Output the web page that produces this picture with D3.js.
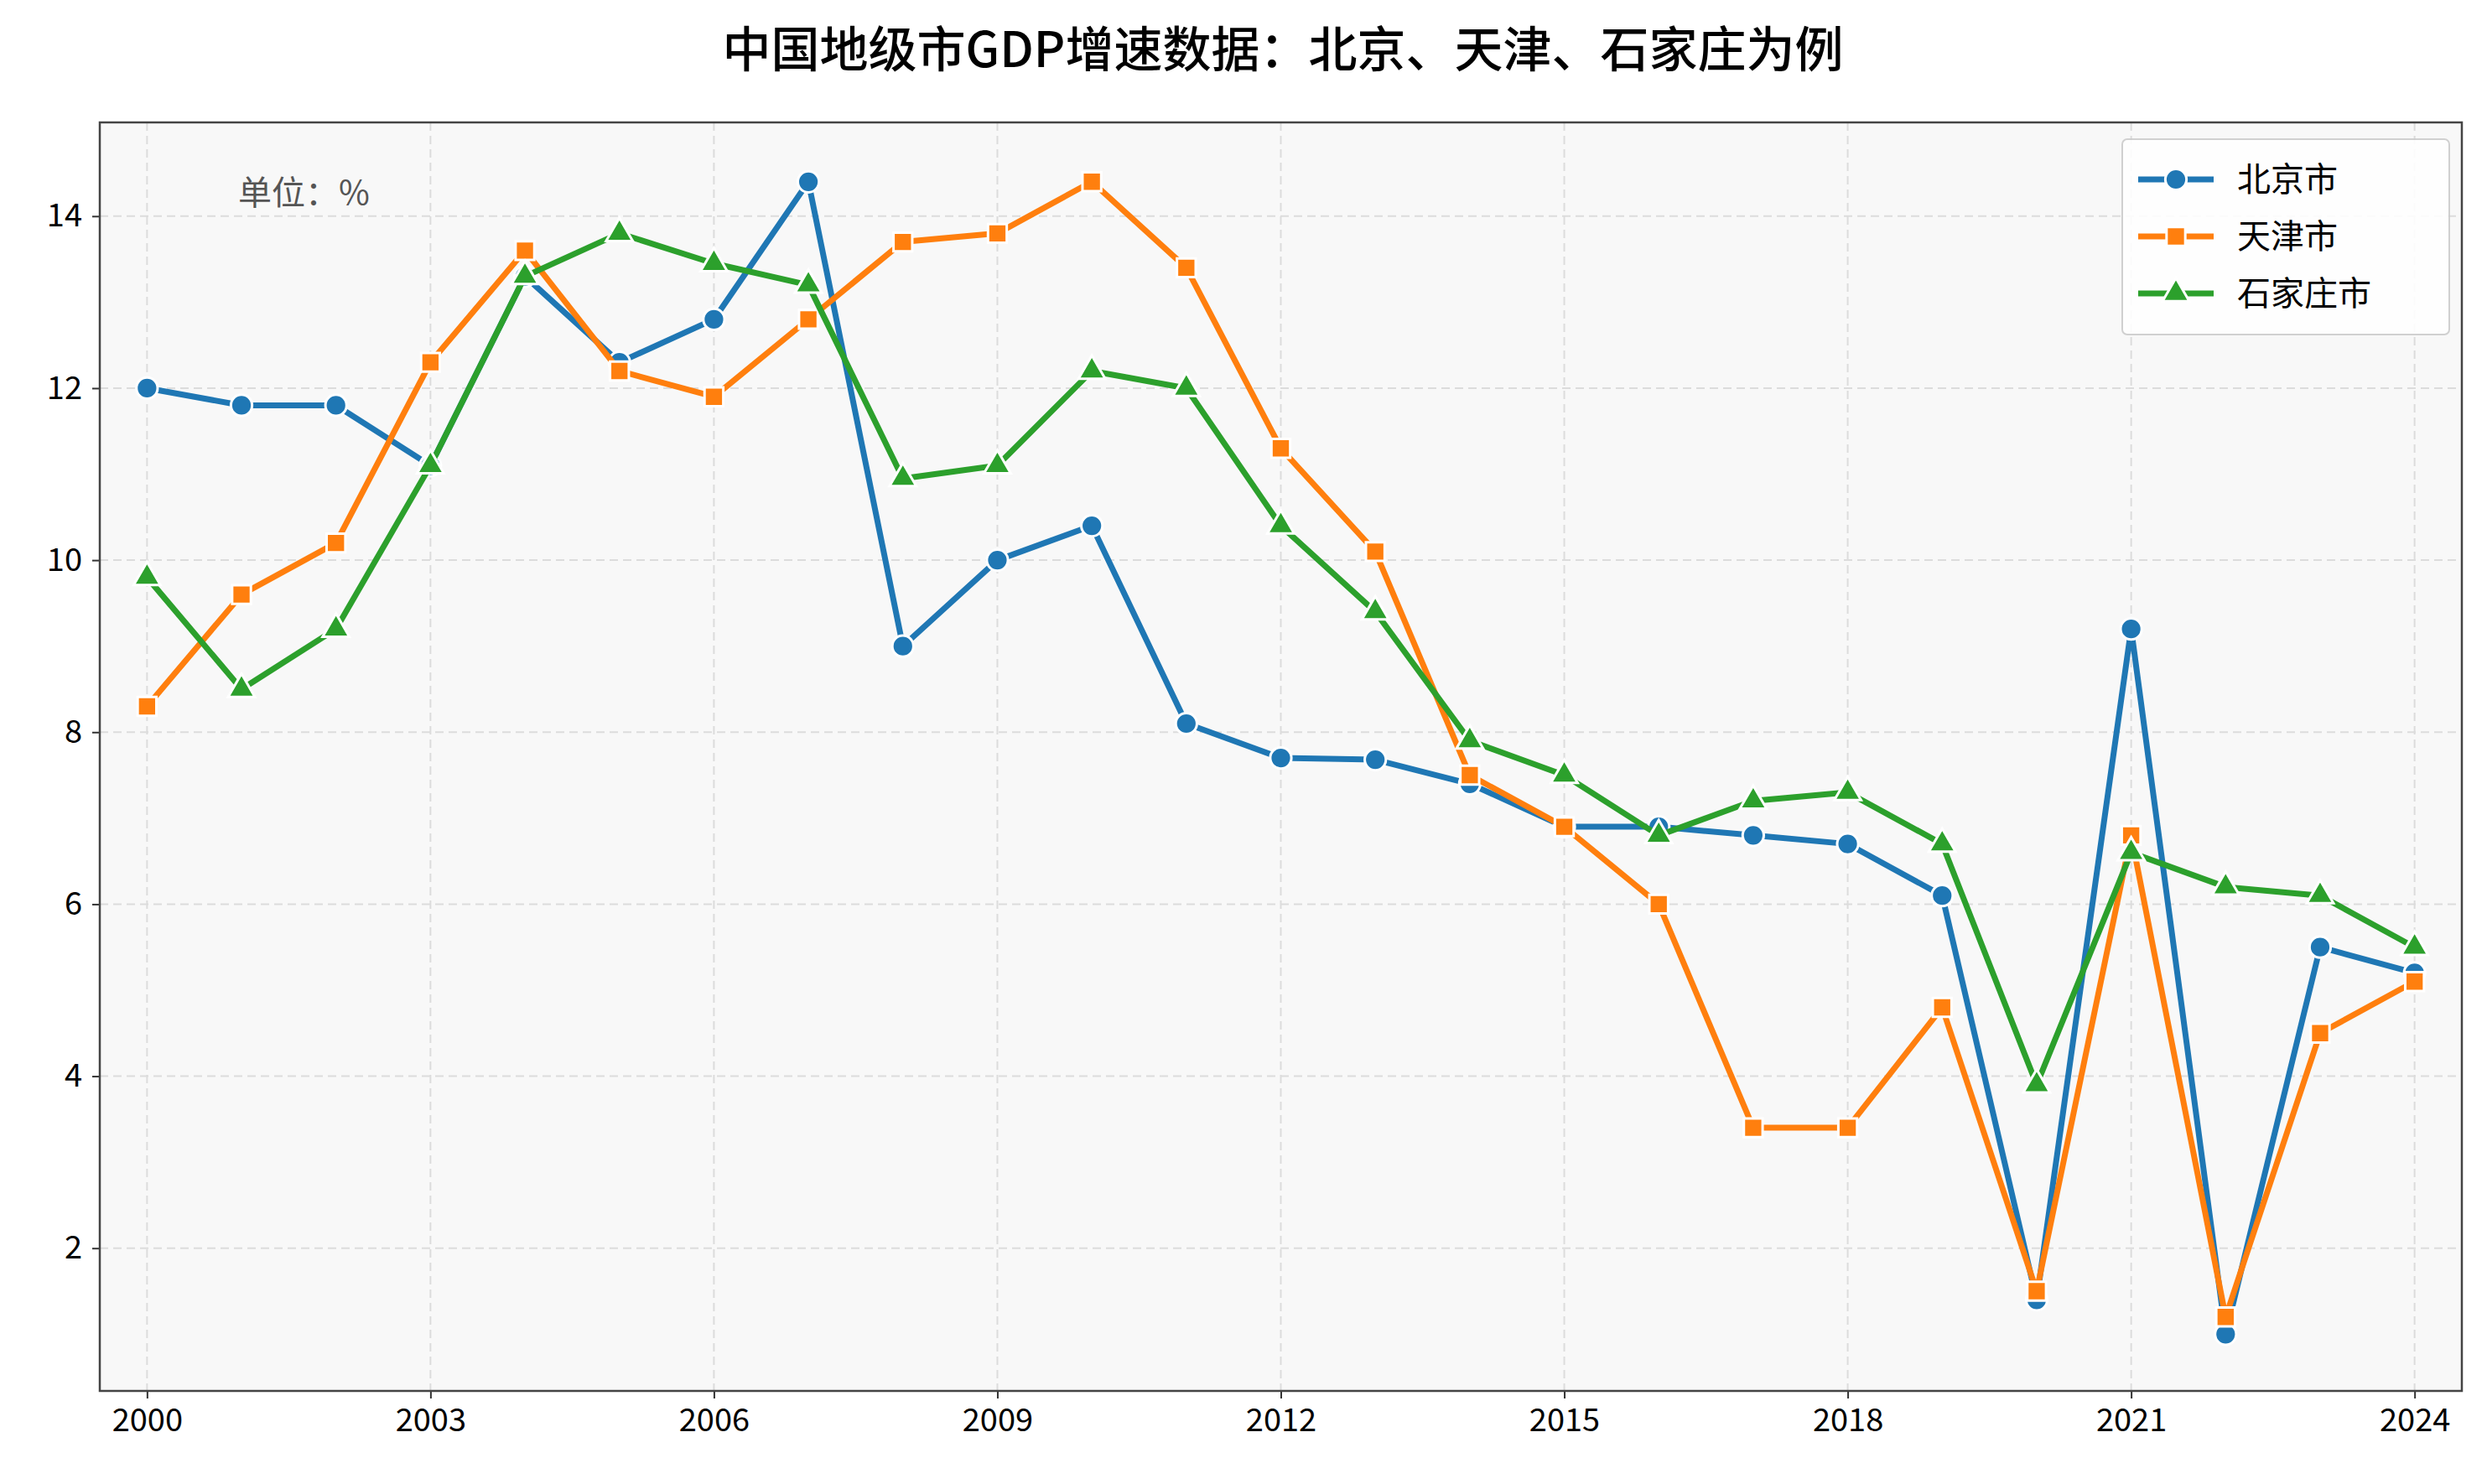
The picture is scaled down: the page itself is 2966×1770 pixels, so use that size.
<!DOCTYPE html>
<html><head><meta charset="utf-8">
<script src="https://cdn.jsdelivr.net/npm/d3@7"></script>
<style>body{margin:0;background:#fff}</style></head>
<body><svg id="c" width="2966" height="1770"></svg>
<script>
const years = d3.range(2000, 2025);
const beijing = [12.0,11.8,11.8,11.1,13.3,12.3,12.8,14.4,9.0,10.0,10.4,8.1,7.7,7.68,7.4,6.9,6.9,6.8,6.7,6.1,1.4,9.2,1.0,5.5,5.2];
const tianjin = [8.3,9.6,10.2,12.3,13.6,12.2,11.9,12.8,13.7,13.8,14.4,13.4,11.3,10.1,7.5,6.9,6.0,3.4,3.4,4.8,1.5,6.8,1.2,4.5,5.1];
const sjz = [9.8,8.5,9.2,11.1,13.3,13.8,13.45,13.2,10.95,11.1,12.2,12.0,10.4,9.4,7.9,7.5,6.8,7.2,7.3,6.7,3.9,6.6,6.2,6.1,5.5];
const xTicks = [2000,2003,2006,2009,2012,2015,2018,2021,2024];
const yTicks = [2,4,6,8,10,12,14];
const seriesNames = ["北京市","天津市","石家庄市"];
const colors = ["#1f77b4","#ff7f0e","#2ca02c"];
const shapes = [d3.symbolCircle, d3.symbolSquare, d3.symbolTriangle];
const data = [beijing, tianjin, sjz];

const svg = d3.select("#c");
const L=119,R=2936,T=146,B=1659;
const x = d3.scaleLinear().domain([1999.5,2024.5]).range([L,R]);
const y = d3.scaleLinear().domain([0.34,15.09]).range([B,T]);
const font = "'Noto Sans CJK SC', sans-serif";

svg.append("rect").attr("x",L).attr("y",T).attr("width",R-L).attr("height",B-T).attr("fill","#f8f8f8");
svg.append("g").selectAll("line").data(xTicks).join("line")
 .attr("x1",d=>x(d)).attr("x2",d=>x(d)).attr("y1",T).attr("y2",B)
 .attr("stroke","#dcdcdc").attr("stroke-width",2).attr("stroke-dasharray","10,6");
svg.append("g").selectAll("line").data(yTicks).join("line")
 .attr("y1",d=>y(d)).attr("y2",d=>y(d)).attr("x1",L).attr("x2",R)
 .attr("stroke","#dcdcdc").attr("stroke-width",2).attr("stroke-dasharray","10,6");

const xa = svg.append("g").attr("transform",`translate(0,${B})`)
 .call(d3.axisBottom(x).tickValues(xTicks).tickFormat(d3.format("d")).tickSize(9).tickPadding(12));
const ya = svg.append("g").attr("transform",`translate(${L},0)`)
 .call(d3.axisLeft(y).tickValues(yTicks).tickSize(9).tickPadding(12));
[xa,ya].forEach(a=>{a.select(".domain").remove();
 a.selectAll("text").attr("font-size",38).attr("font-family",font).attr("fill","#000");
 a.selectAll("line").attr("stroke","#333").attr("stroke-width",2);});
svg.append("rect").attr("x",L).attr("y",T).attr("width",R-L).attr("height",B-T)
 .attr("fill","none").attr("stroke","#444").attr("stroke-width",2.5);

const line = d3.line().x((d,i)=>x(years[i])).y(d=>y(d));
data.forEach((s,k)=>{
  svg.append("path").datum(s).attr("d",line).attr("fill","none")
   .attr("stroke",colors[k]).attr("stroke-width",7).attr("stroke-linejoin","round");
  svg.append("g").selectAll("path").data(s).join("path")
   .attr("transform",(d,i)=>`translate(${x(years[i])},${y(d)})`)
   .attr("d",d3.symbol().type(shapes[k]).size(k==2?440:500))
   .attr("fill",colors[k]).attr("stroke","#fff").attr("stroke-width",3);
});

svg.append("text").attr("x",1530).attr("y",80).attr("text-anchor","middle")
 .attr("font-family",font).attr("font-size",58).attr("font-weight",500)
 .text("中国地级市GDP增速数据：北京、天津、石家庄为例");
svg.append("text").attr("x",284).attr("y",244).attr("font-family",font)
 .attr("font-size",40).attr("fill","#555").text("单位：%");

const lg = svg.append("g");
lg.append("rect").attr("x",2531).attr("y",166).attr("width",390).attr("height",233)
 .attr("rx",6).attr("fill","#fff").attr("stroke","#ccc").attr("stroke-width",2).attr("opacity",0.9);
seriesNames.forEach((n,k)=>{
  const cy = 214 + k*68;
  lg.append("line").attr("x1",2550).attr("x2",2640).attr("y1",cy).attr("y2",cy)
   .attr("stroke",colors[k]).attr("stroke-width",7);
  lg.append("path").attr("transform",`translate(2595,${cy})`)
   .attr("d",d3.symbol().type(shapes[k]).size(k==2?440:500))
   .attr("fill",colors[k]).attr("stroke","#fff").attr("stroke-width",3);
  lg.append("text").attr("x",2668).attr("y",cy+14).attr("font-family",font)
   .attr("font-size",40).text(n);
});
</script></body></html>
